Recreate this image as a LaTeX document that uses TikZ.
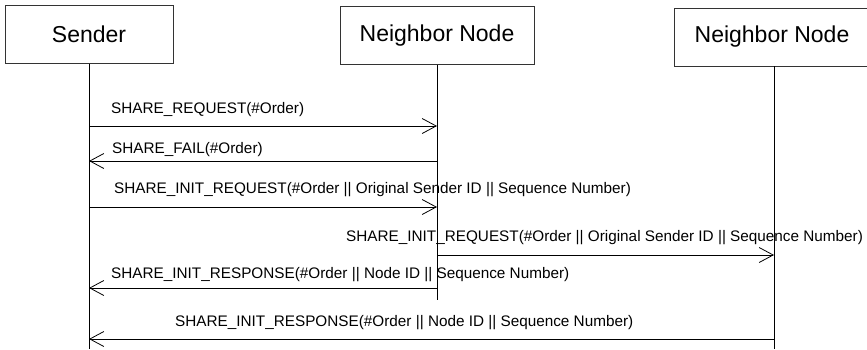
\documentclass[tikz,border=0pt]{standalone}
\usepackage{fontspec}
\setmainfont{Liberation Sans}
\usetikzlibrary{arrows.meta}

\begin{document}
\begin{tikzpicture}[x=1pt,y=-1pt,
  actor/.style={draw=black!80, line width=0.7pt, minimum height=58pt, inner sep=0pt, font=\fontsize{23}{23}\selectfont},
  life/.style={line width=0.9pt},
  msg/.style={line width=0.8pt, -{Straight Barb[length=14pt,width=15pt]}},
  lbl/.style={anchor=west, inner sep=0pt, font=\fontsize{15.3}{15.3}\selectfont}]
  \useasboundingbox (0,0) rectangle (867,349);

  % participants
  \node[actor, minimum width=168pt] (sender) at (89,34.5) {Sender};
  \node[actor, minimum width=194pt] (nbrA) at (437,35.5) {Neighbor Node};
  \node[actor, minimum width=196pt] (nbrB) at (772,37) {Neighbor Node};

  % lifelines
  \coordinate (sEnd) at (89,349);
  \coordinate (aEnd) at (437,300);
  \coordinate (bEnd) at (774,349);
  \draw[life] (sender) -- (sEnd);
  \draw[life] (nbrA) -- (aEnd);
  \draw[life] (nbrB.south -| bEnd) -- (bEnd);

  % message heights
  \coordinate (m1) at (0,126);
  \coordinate (m2) at (0,161);
  \coordinate (m3) at (0,207);
  \coordinate (m4) at (0,255);
  \coordinate (m5) at (0,288);
  \coordinate (m6) at (0,339);

  % messages
  \draw[msg] (sender |- m1) -- (nbrA |- m1);
  \node[lbl] (t1) at (111,110) {SHARE\_REQUEST(\#Order)};

  \draw[msg] (nbrA |- m2) -- (sender |- m2);
  \node[lbl] (t2) at (112,150) {SHARE\_FAIL(\#Order)};

  \draw[msg] (sender |- m3) -- (nbrA |- m3);
  \node[lbl] (t3) at (114,190) {SHARE\_INIT\_REQUEST(\#Order || Original Sender ID || Sequence Number)};

  \draw[msg] (nbrA |- m4) -- (bEnd |- m4);
  \node[lbl] (t4) at (346,238) {SHARE\_INIT\_REQUEST(\#Order || Original Sender ID || Sequence Number)};

  \draw[msg] (nbrA |- m5) -- (sender |- m5);
  \node[lbl] (t5) at (111,275) {SHARE\_INIT\_RESPONSE(\#Order || Node ID || Sequence Number)};

  \draw[msg] (bEnd |- m6) -- (sender |- m6);
  \node[lbl] (t6) at (175,323) {SHARE\_INIT\_RESPONSE(\#Order || Node ID || Sequence Number)};
\end{tikzpicture}
\end{document}
